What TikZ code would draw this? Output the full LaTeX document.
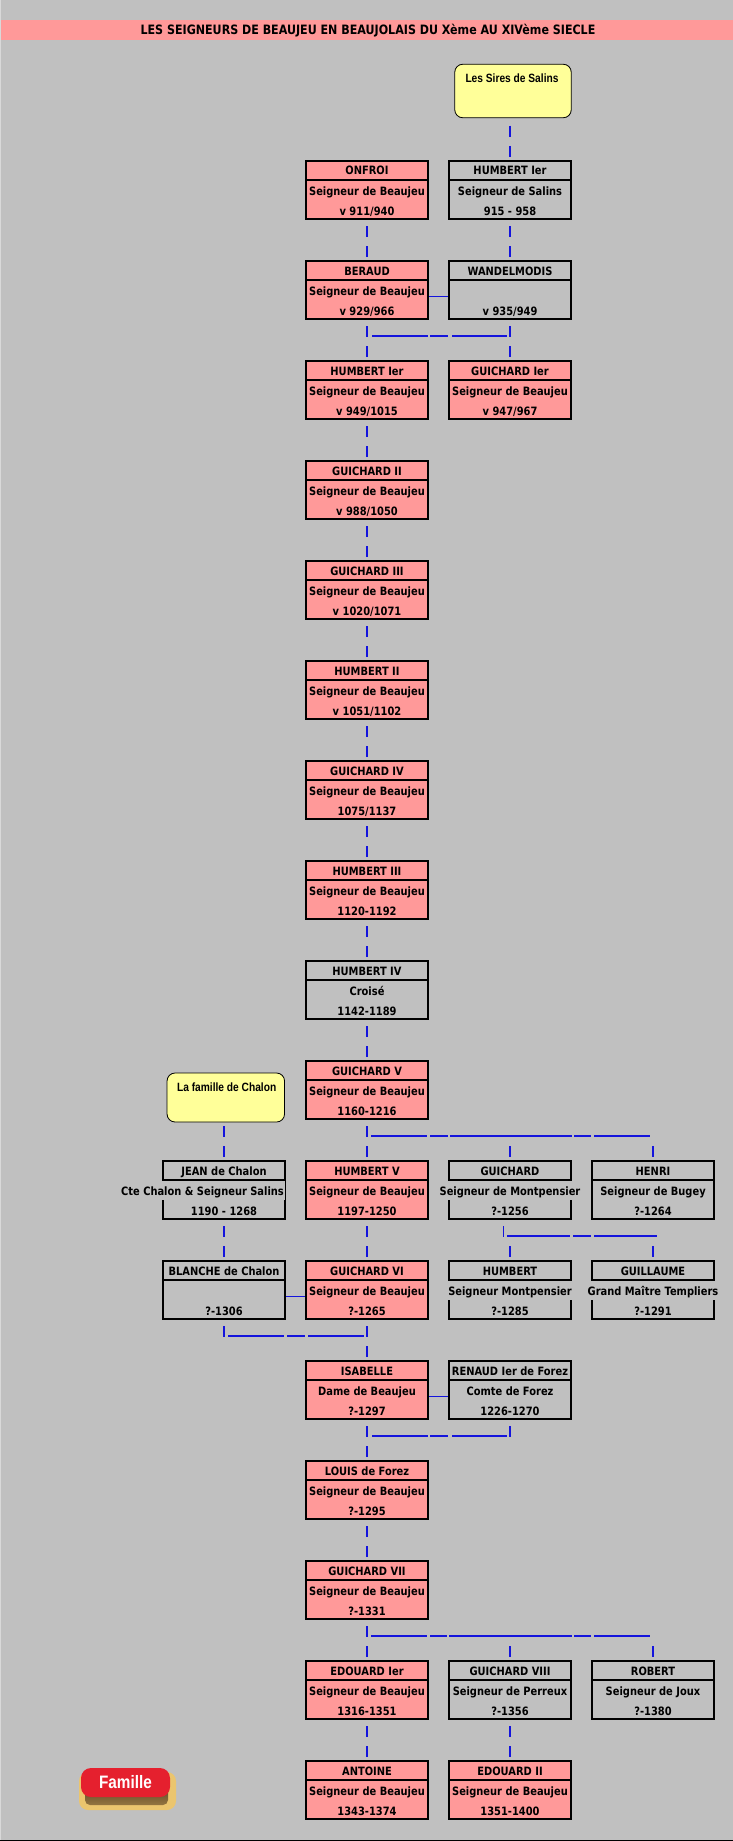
\documentclass[tikz,border=0pt]{standalone}
\usepackage{fontspec}
\usetikzlibrary{calc}
\setmainfont{DejaVu Sans}[BoldFont={DejaVu Sans Bold},BoldFeatures={FakeStretch=0.86}]
\newfontfamily\arialb{Liberation Sans Bold}[FakeStretch=0.85]
\definecolor{bgc}{HTML}{C0C0C0}
\definecolor{pinkc}{HTML}{FF9999}
\definecolor{yelc}{HTML}{FFFF99}
\definecolor{linkc}{HTML}{1414DC}
\definecolor{btnred}{HTML}{E5202E}
\definecolor{btngold}{HTML}{EBC56E}
\definecolor{btndark}{HTML}{5A4022}
\tikzset{
  x=1pt,y=-1pt,
  kinbox/.style={draw=black,line width=2pt,minimum width=122pt,minimum height=58pt,outer sep=1pt,inner sep=0pt},
  divider/.style={draw=black,line width=2pt},
  cell/.style={anchor=base,inner sep=0pt,font=\fontsize{11.5pt}{13pt}\selectfont\bfseries,text=black},
  cover/.style={fill=bgc,inner xsep=1.5pt,inner ysep=0pt,text height=14pt,text depth=5pt},
  plain/.style={},
  vconn/.style={draw=linkc,line width=1.5pt,dash pattern=on 11pt off 9pt,dash phase=14pt},
  stub/.style={draw=linkc,line width=1.5pt,dash pattern=on 11pt off 9pt},
  hconn/.style={draw=linkc,line width=1.2pt},
  spouse/.style={draw=linkc,line width=1.2pt},
  famhead/.style={draw=black,line width=0.8pt,fill=yelc,rounded corners=8pt,minimum width=116.5pt,inner sep=0pt,outer sep=0pt},
  famtext/.style={font=\arialb\fontsize{12pt}{14pt}\selectfont,inner sep=0pt,text=black},
}
\newcommand{\person}[8][plain]{%
  \node[kinbox,fill=#5] (#2) at (#3,#4+30) {};
  \draw[divider] ($(#2.north west)+(1,20)$) -- ($(#2.north east)+(-1,20)$);
  \node[cell] (#2-t) at (#3,#4+15) {#6};
  \node[cell,#1] (#2-s) at (#3,#4+35) {#7};
  \node[cell] (#2-d) at (#3,#4+55) {#8};
}
\newcommand{\vlink}[2]{\draw[vconn] (#1.south) -- (#2.north);}
\newcommand{\upstub}[1]{\draw[vconn] (#1.south) -- ++(0,17);}
\newcommand{\downstub}[1]{\coordinate (#1-in) at ($(#1.north)+(0,-14)$);\draw[stub] (#1-in) -- (#1.north);}
\newcommand{\wed}[2]{\coordinate (#1-w) at ($(#1.north east)+(0,36.5)$);\draw[spouse] (#1-w) -- (#1-w -| #2.west);}
\begin{document}
\begin{tikzpicture}
\useasboundingbox (0,0) rectangle (733,1841);
\fill[bgc] (0,0) rectangle (733,1841);
\fill[black!15] (0,0) rectangle (1,1841);
\fill[pinkc] (1,20) rectangle (733,40);
\node[anchor=base,inner sep=0pt,font=\fontsize{12.9pt}{14pt}\selectfont\bfseries] (titre) at (368,35) {LES SEIGNEURS DE BEAUJEU EN BEAUJOLAIS DU Xème AU XIVème SIECLE};
\draw[black,line width=1pt] (0,1840.5) -- (733,1840.5);

% family heads
\node[famhead,minimum height=53.5pt] (sires) at (513,91) {};
\node[famtext,anchor=base] (sires-t) at (512,82.5) {Les Sires de Salins};
\node[famhead,minimum height=49pt,minimum width=117.5pt] (chalon) at (225.8,1097.5) {};
\node[famtext,anchor=base] (chalon-t) at (226.7,1091) {La famille de Chalon};

% persons
\person{onfroi}{367}{160}{pinkc}{ONFROI}{Seigneur de Beaujeu}{v 911/940}
\person{hsalins}{510}{160}{bgc}{HUMBERT Ier}{Seigneur de Salins}{915 - 958}
\person{beraud}{367}{260}{pinkc}{BERAUD}{Seigneur de Beaujeu}{v 929/966}
\person{wandel}{510}{260}{bgc}{WANDELMODIS}{}{v 935/949}
\person{humberti}{367}{360}{pinkc}{HUMBERT Ier}{Seigneur de Beaujeu}{v 949/1015}
\person{guichardi}{510}{360}{pinkc}{GUICHARD Ier}{Seigneur de Beaujeu}{v 947/967}
\person{guichardii}{367}{460}{pinkc}{GUICHARD II}{Seigneur de Beaujeu}{v 988/1050}
\person{guichardiii}{367}{560}{pinkc}{GUICHARD III}{Seigneur de Beaujeu}{v 1020/1071}
\person{humbertii}{367}{660}{pinkc}{HUMBERT II}{Seigneur de Beaujeu}{v 1051/1102}
\person{guichardiv}{367}{760}{pinkc}{GUICHARD IV}{Seigneur de Beaujeu}{1075/1137}
\person{humbertiii}{367}{860}{pinkc}{HUMBERT III}{Seigneur de Beaujeu}{1120-1192}
\person{humbertiv}{367}{960}{bgc}{HUMBERT IV}{Croisé}{1142-1189}
\person{guichardv}{367}{1060}{pinkc}{GUICHARD V}{Seigneur de Beaujeu}{1160-1216}
\person[cover,xshift=-21.5pt]{jean}{224}{1160}{bgc}{JEAN de Chalon}{Cte Chalon \& Seigneur Salins}{1190 - 1268}
\person{humbertv}{367}{1160}{pinkc}{HUMBERT V}{Seigneur de Beaujeu}{1197-1250}
\person[cover]{guichardm}{510}{1160}{bgc}{GUICHARD}{Seigneur de Montpensier}{?-1256}
\person{henri}{653}{1160}{bgc}{HENRI}{Seigneur de Bugey}{?-1264}
\person{blanche}{224}{1260}{bgc}{BLANCHE de Chalon}{}{?-1306}
\person{guichardvi}{367}{1260}{pinkc}{GUICHARD VI}{Seigneur de Beaujeu}{?-1265}
\person[cover]{humbertm}{510}{1260}{bgc}{HUMBERT}{Seigneur Montpensier}{?-1285}
\person[cover]{guillaume}{653}{1260}{bgc}{GUILLAUME}{Grand Maître Templiers}{?-1291}
\person{isabelle}{367}{1360}{pinkc}{ISABELLE}{Dame de Beaujeu}{?-1297}
\person{renaud}{510}{1360}{bgc}{RENAUD Ier de Forez}{Comte de Forez}{1226-1270}
\person{louis}{367}{1460}{pinkc}{LOUIS de Forez}{Seigneur de Beaujeu}{?-1295}
\person{guichardvii}{367}{1560}{pinkc}{GUICHARD VII}{Seigneur de Beaujeu}{?-1331}
\person{edouardi}{367}{1660}{pinkc}{EDOUARD Ier}{Seigneur de Beaujeu}{1316-1351}
\person{guichardviii}{510}{1660}{bgc}{GUICHARD VIII}{Seigneur de Perreux}{?-1356}
\person{robert}{653}{1660}{bgc}{ROBERT}{Seigneur de Joux}{?-1380}
\person{antoine}{367}{1760}{pinkc}{ANTOINE}{Seigneur de Beaujeu}{1343-1374}
\person{edouardii}{510}{1760}{pinkc}{EDOUARD II}{Seigneur de Beaujeu}{1351-1400}

% straight descent
\draw[vconn,dash phase=12pt] (sires.south -| hsalins.north) -- (hsalins.north);
\draw[vconn,dash phase=16pt] (chalon.south -| jean.north) -- (jean.north);
\vlink{onfroi}{beraud}
\vlink{hsalins}{wandel}
\vlink{beraud}{humberti}
\vlink{wandel}{guichardi}
\vlink{humberti}{guichardii}
\vlink{guichardii}{guichardiii}
\vlink{guichardiii}{humbertii}
\vlink{humbertii}{guichardiv}
\vlink{guichardiv}{humbertiii}
\vlink{humbertiii}{humbertiv}
\vlink{humbertiv}{guichardv}
\vlink{guichardv}{humbertv}
\vlink{jean}{blanche}
\vlink{humbertv}{guichardvi}
\vlink{guichardvi}{isabelle}
\vlink{isabelle}{louis}
\vlink{louis}{guichardvii}
\vlink{guichardvii}{edouardi}
\vlink{edouardi}{antoine}
\vlink{guichardviii}{edouardii}

% marriages
\wed{beraud}{wandel}
\wed{blanche}{guichardvi}
\wed{isabelle}{renaud}

% bars
\draw[hconn,dash pattern=on 56pt off 2pt on 18pt off 4pt on 55pt off 300pt] ($(beraud.south)+(5,16)$) -- ($(wandel.south)+(-3,16)$);
\draw[hconn,dash pattern=on 56pt off 2pt on 18pt off 4pt on 55pt off 300pt] ($(isabelle.south)+(5,16)$) -- ($(renaud.south)+(-3,16)$);
\draw[hconn,dash pattern=on 56pt off 3pt on 18pt off 3pt on 56pt off 300pt] ($(blanche.south)+(4,16)$) -- ($(guichardvi.south)+(-3,16)$);
\upstub{blanche}
\upstub{renaud}

\draw[hconn,dash pattern=on 56pt off 3pt on 18pt off 2pt on 122pt off 2pt on 17pt off 3pt on 56pt off 300pt] ($(guichardv.south)+(4,16)$) -- ($(henri.north)+(-3,-24)$);
\downstub{guichardm}
\downstub{henri}

\coordinate (gm-out) at ($(guichardm.south)+(-6.5,0)$);
\draw[vconn] (gm-out) -- ++(0,17);
\draw[hconn,dash pattern=on 63pt off 3pt on 18pt off 3pt on 63pt off 300pt] ($(guichardm.south)+(-3,16)$) -- ($(guillaume.north)+(4,-24)$);
\downstub{humbertm}
\downstub{guillaume}

\draw[hconn,dash pattern=on 56pt off 3pt on 17pt off 2pt on 123pt off 2pt on 17pt off 3pt on 56pt off 300pt] ($(guichardvii.south)+(4,16)$) -- ($(robert.north)+(-3,-24)$);
\downstub{guichardviii}
\downstub{robert}

% button
\fill[btngold,rounded corners=9pt] (79,1772) rectangle (176,1810);
\shade[top color=btndark,bottom color=btndark!60!btngold,rounded corners=5pt] (85,1785) rectangle (168,1805);
\node[fill=btnred,rounded corners=10pt,minimum width=89pt,minimum height=29pt,inner sep=0pt,outer sep=0pt,text=white,font=\arialb\fontsize{18pt}{20pt}\selectfont] (famille) at (125.5,1782.5) {Famille};
\end{tikzpicture}
\end{document}
